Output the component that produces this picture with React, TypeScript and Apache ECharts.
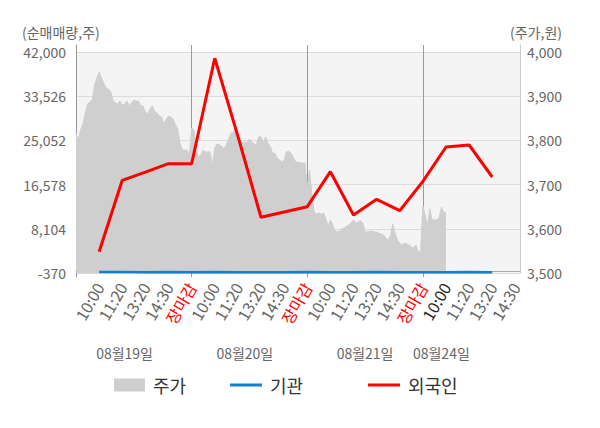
import { useEffect, useRef } from 'react';
import * as echarts from 'echarts';

// x-axis tick labels (one every 10 fine steps, starting at step 10)
const tickLabels = [
  '10:00', '11:20', '13:20', '14:30', '장마감',
  '10:00', '11:20', '13:20', '14:30', '장마감',
  '10:00', '11:20', '13:20', '14:30', '장마감',
  '10:00', '11:20', '13:20', '14:30',
];
const dayLabels = ['08월19일', '08월20일', '08월21일', '08월24일'];
const dayLabelSlots = [21, 73, 125, 158];

// 주가 (price, won) at fine steps
const priceValues = [
  3817, 3801, 3824, 3837, 3862, 3882, 3887, 3891, 3925, 3941,
  3955, 3941, 3930, 3919, 3916, 3910, 3891, 3885, 3882, 3889,
  3880, 3882, 3889, 3878, 3885, 3891, 3889, 3889, 3878, 3878,
  3864, 3860, 3871, 3878, 3866, 3862, 3855, 3853, 3837, 3848,
  3855, 3853, 3848, 3835, 3826, 3792, 3778, 3778, 3778, 3767,
  3828, 3824, 3783, 3762, 3767, 3778, 3774, 3774, 3774, 3744,
  3783, 3792, 3790, 3787, 3781, 3790, 3803, 3817, 3817, 3830,
  3808, 3796, 3794, 3796, 3796, 3803, 3796, 3792, 3790, 3808,
  3808, 3796, 3808, 3794, 3787, 3771, 3771, 3760, 3756, 3751,
  3756, 3774, 3776, 3771, 3762, 3751, 3751, 3749, 3749, 3749,
  3692, 3733, 3676, 3638, 3633, 3636, 3633, 3636, 3624, 3606,
  3620, 3609, 3595, 3593, 3595, 3600, 3602, 3606, 3609, 3613,
  3620, 3613, 3615, 3618, 3613, 3593, 3593, 3595, 3595, 3593,
  3593, 3590, 3588, 3586, 3579, 3575, 3584, 3611, 3590, 3575,
  3568, 3563, 3568, 3566, 3563, 3559, 3557, 3563, 3548, 3548,
  3652, 3631, 3609, 3645, 3620, 3620, 3620, 3624, 3649, 3638, 3636,
];

// 순매매량 (shares) at each tick label
const foreignValues = [
  3714, 17402, 18974, 20585, 20585, 40792, 25876, 10309, 11325,
  12341, 19051, 10750, 13760, 11574, 17191, 23787, 24170, 18035,
];
const institutionValues = [
  -200, -200, -210, -200, -210, -200, -210, -220, -210,
  -200, -220, -210, -200, -220, -210, -230, -180, -210,
];

const leftMin = -370;
const leftTop = 42000;
const leftInterval = 8474;
const rightMin = 3500;
const rightTop = 4000;
const rightInterval = 100;

const STEP = 10;
const CATEGORY_COUNT = 193;

export default function App() {
  const ref = useRef<HTMLDivElement>(null);

  useEffect(() => {
    if (!ref.current) return;
    const chart = echarts.init(ref.current, undefined, { renderer: 'svg' });

    const gridTop = 45;
    const gridBottomY = 273;
    const plotTopY = 52;
    const ratio = (gridBottomY - gridTop) / (gridBottomY - plotTopY);
    const leftMax = leftMin + (leftTop - leftMin) * ratio;
    const rightMax = rightMin + (rightTop - rightMin) * ratio;

    const categories = Array.from({ length: CATEGORY_COUNT }, (_, i) => `t${i}`);
    const labelAt = (i: number) =>
      i % STEP === 0 && i >= STEP && i / STEP - 1 < tickLabels.length ? tickLabels[i / STEP - 1] : '';
    const sparse = (vals: number[]) =>
      categories.map((_, i) =>
        i % STEP === 0 && i >= STEP && i / STEP - 1 < vals.length ? vals[i / STEP - 1] : null
      );
    const fmt = (v: number) => Math.round(v).toLocaleString('en-US');
    const gray = '#666';

    chart.setOption({
      animation: false,
      textStyle: { fontFamily: "'Noto Sans CJK KR', 'Noto Sans', sans-serif" },
      title: [
        {
          text: '(순매매량,주)', left: 22, top: 24, padding: 0,
          textStyle: { fontSize: 14, lineHeight: 16, color: gray, fontWeight: 'normal' },
        },
        {
          text: '(주가,원)', right: 38, top: 24, padding: 0,
          textStyle: { fontSize: 14, lineHeight: 16, color: gray, fontWeight: 'normal' },
        },
      ],
      grid: { left: 76, right: 80, top: gridTop, bottom: 428 - gridBottomY, containLabel: false },
      legend: [
        {
          left: 114, top: 376, padding: 0, itemWidth: 31, itemHeight: 13, selectedMode: false,
          textStyle: { fontSize: 18, color: '#333', padding: [0, 0, 0, 3] },
          data: [{ name: '주가', icon: 'rect', itemStyle: { color: '#cfcfcf' } }],
        },
        {
          left: 230, top: 376, padding: 0, itemWidth: 32, itemHeight: 3, selectedMode: false,
          textStyle: { fontSize: 18, color: '#333', padding: [0, 0, 0, 3] },
          data: [{ name: '기관', icon: 'rect', itemStyle: { color: '#1280d0' } }],
        },
        {
          left: 368, top: 376, padding: 0, itemWidth: 32, itemHeight: 3, selectedMode: false,
          textStyle: { fontSize: 18, color: '#333', padding: [0, 0, 0, 3] },
          data: [{ name: '외국인', icon: 'rect', itemStyle: { color: '#ff0000' } }],
        },
      ],
      xAxis: [
        {
          type: 'category',
          data: categories,
          boundaryGap: false,
          axisLine: { show: true, lineStyle: { color: '#aaa' } },
          axisTick: {
            show: true, length: 6, lineStyle: { color: '#999' },
            interval: (i: number) => i % 50 === 0,
          },
          splitLine: {
            show: true, lineStyle: { color: '#999', width: 1 },
            interval: (i: number) => i > 0 && i % 50 === 0,
          },
          axisLabel: {
            interval: (i: number) => labelAt(i) !== '',
            rotate: 60,
            margin: 11,
            fontSize: 16,
            color: gray,
            formatter: (_v: string, i: number) => {
              const t = labelAt(i);
              if (t === '장마감') return `{r|${t}}`;
              if (i === 160) return `{k|${t}}`;
              return t;
            },
            rich: {
              r: { color: '#ff0000', fontSize: 16 },
              k: { color: '#222', fontSize: 16 },
            },
          },
        },
        {
          type: 'category',
          data: categories,
          boundaryGap: false,
          position: 'bottom',
          offset: 70,
          axisLine: { show: false },
          axisTick: { show: false },
          splitLine: { show: false },
          axisLabel: {
            interval: (i: number) => dayLabelSlots.includes(i),
            formatter: (_v: string, i: number) => {
              const k = dayLabelSlots.indexOf(i);
              return k >= 0 ? dayLabels[k] : '';
            },
            fontSize: 14,
            color: gray,
            margin: 3,
          },
        },
      ],
      yAxis: [
        {
          type: 'value',
          position: 'left',
          min: leftMin,
          max: leftMax,
          interval: leftInterval,
          axisLine: { show: true, lineStyle: { color: '#999' } },
          axisTick: { show: false },
          axisLabel: {
            fontSize: 14, color: gray, margin: 10,
            formatter: (v: number) => (v > leftTop + 1 ? '' : fmt(v)),
          },
          splitLine: { show: true, showMaxLine: false, lineStyle: { color: '#dcdcdc' } },
          splitArea: {
            show: true,
            areaStyle: { color: ['#f4f4f4', '#f4f4f4', '#f4f4f4', '#f4f4f4', '#f4f4f4', '#ffffff'] },
          },
        },
        {
          type: 'value',
          position: 'right',
          min: rightMin,
          max: rightMax,
          interval: rightInterval,
          axisLine: { show: true, lineStyle: { color: '#cccccc' } },
          axisTick: { show: false },
          axisLabel: {
            fontSize: 14, color: gray, margin: 7,
            formatter: (v: number) => (v > rightTop + 0.01 ? '' : fmt(v)),
          },
          splitLine: { show: false },
        },
      ],
      series: [
        {
          name: '주가',
          type: 'line',
          xAxisIndex: 0,
          yAxisIndex: 1,
          data: priceValues,
          symbol: 'none',
          showSymbol: false,
          color: '#cfcfcf',
          lineStyle: { width: 1, color: '#cfcfcf' },
          areaStyle: { color: '#cfcfcf', opacity: 1 },
          itemStyle: { color: '#cfcfcf' },
          z: 1,
        },
        {
          name: '기관',
          type: 'line',
          xAxisIndex: 0,
          yAxisIndex: 0,
          data: sparse(institutionValues),
          connectNulls: true,
          symbol: 'none',
          showSymbol: false,
          color: '#1280d0',
          lineStyle: { width: 2.5, color: '#1280d0' },
          itemStyle: { color: '#1280d0' },
          z: 3,
        },
        {
          name: '외국인',
          type: 'line',
          xAxisIndex: 0,
          yAxisIndex: 0,
          data: sparse(foreignValues),
          connectNulls: true,
          symbol: 'none',
          showSymbol: false,
          color: '#ff0000',
          lineStyle: { width: 3, color: '#ff0000' },
          itemStyle: { color: '#ff0000' },
          z: 4,
        },
      ],
    });

    return () => chart.dispose();
  }, []);

  return (
    <div
      ref={ref}
      style={{ position: 'fixed', left: 0, top: 0, width: 600, height: 428, background: '#fff' }}
    />
  );
}
